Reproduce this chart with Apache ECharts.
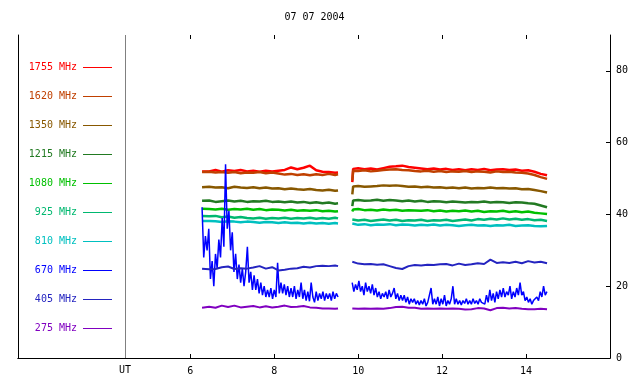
<!DOCTYPE html>
<html><head><meta charset="utf-8">
<script src="https://cdn.jsdelivr.net/npm/echarts@6/dist/echarts.min.js"></script>
<style>html,body{margin:0;padding:0;background:#fff}#c{width:640px;height:384px}</style>
</head><body><div id="c"></div>
<script>
const TITLE = '07 07 2004';
const NAMES = ['1755 MHz','1620 MHz','1350 MHz','1215 MHz','1080 MHz','925 MHz','810 MHz','670 MHz','405 MHz','275 MHz'];
const COLORS = ['#ff0000','#c04000','#885800','#227a22','#00c000','#00b870','#00c0c0','#0000ff','#2424c0','#8000c0'];
const UT_POS = 4.45;
const Y_TICKS = [0, 20, 40, 60, 80];

// sample times (hours UT) of the two observing segments
const T1 = [6.28, 6.3, 6.45, 6.6, 6.75, 6.9, 7.05, 7.2, 7.35, 7.5, 7.65, 7.8, 7.95, 8.1, 8.25, 8.4, 8.55, 8.7, 8.85, 9.0, 9.15, 9.3, 9.45, 9.52];
const T2 = [9.86, 9.88, 10.0, 10.15, 10.3, 10.45, 10.6, 10.75, 10.9, 11.05, 11.2, 11.35, 11.5, 11.65, 11.8, 11.95, 12.1, 12.25, 12.4, 12.55, 12.7, 12.85, 13.0, 13.15, 13.3, 13.45, 13.6, 13.75, 13.9, 14.05, 14.2, 14.35, 14.5];

const F1755_A = [52.0,52.3,52.0,52.4,51.9,52.3,52.1,52.4,52.0,52.2,51.9,52.2,52.0,52.2,52.4,53.1,52.6,53.0,53.6,52.3,51.9,51.8,51.6,51.7];
const F1755_B = [49.0,52.7,52.9,52.6,52.8,52.5,52.9,53.3,53.4,53.6,53.2,53.0,52.8,52.6,52.8,52.5,52.7,52.4,52.6,52.3,52.6,52.4,52.7,52.3,52.5,52.6,52.4,52.5,52.2,52.3,51.9,51.3,50.9];
const F1620_A = [51.8,51.6,51.9,51.7,51.8,51.6,51.8,51.5,51.7,51.6,51.8,51.5,51.7,51.4,51.1,51.3,51.0,51.2,50.9,51.2,51.0,51.3,51.0,51.2];
const F1620_B = [49.5,52.2,52.1,52.3,52.0,52.2,52.4,52.5,52.6,52.4,52.3,52.1,52.0,52.2,51.9,52.1,51.8,52.0,51.9,52.1,51.8,52.0,51.9,51.7,52.0,51.8,51.9,51.7,51.6,51.4,51.0,50.4,49.9];
const F1350_A = [47.6,47.4,47.7,47.5,47.6,47.3,47.7,47.5,47.4,47.6,47.3,47.5,47.2,47.3,47.0,47.2,47.0,46.9,47.1,46.8,46.7,46.9,46.6,46.7];
const F1350_B = [45.6,47.8,47.9,47.7,47.8,47.9,48.1,48.0,48.1,47.9,47.7,47.8,47.6,47.7,47.5,47.6,47.4,47.5,47.3,47.5,47.2,47.4,47.3,47.5,47.3,47.4,47.2,47.3,47.0,47.1,46.8,46.5,46.1];
const F1215_A = [43.8,43.6,43.9,43.5,43.7,43.9,43.6,43.8,43.5,43.7,43.6,43.8,43.5,43.6,43.4,43.6,43.3,43.5,43.2,43.4,43.1,43.3,43.0,43.1];
const F1215_B = [42.3,43.9,44.0,43.8,43.9,44.1,43.8,44.0,43.9,43.7,43.9,43.6,43.8,43.5,43.7,43.6,43.4,43.6,43.5,43.3,43.5,43.4,43.6,43.3,43.5,43.4,43.2,43.4,43.3,43.1,43.0,42.5,42.0];
const F1080_A = [41.6,41.3,41.5,41.4,41.6,41.3,41.5,41.4,41.6,41.3,41.5,41.2,41.4,41.3,41.1,41.3,41.0,41.2,41.0,41.2,40.9,41.0,40.8,40.9];
const F1080_B = [40.8,41.4,41.5,41.2,41.3,41.1,41.4,41.2,41.3,41.0,41.2,41.1,41.0,41.2,40.9,41.1,40.8,41.0,40.9,41.1,40.8,41.0,40.7,40.9,40.8,41.0,40.7,40.9,40.6,40.8,40.5,40.3,40.1];
const F925_A = [39.6,39.3,39.5,39.6,39.2,39.4,39.1,39.3,39.0,38.9,39.1,38.8,39.0,38.9,39.1,38.8,39.0,38.9,39.1,38.8,39.0,38.8,39.1,38.9];
const F925_B = [38.6,38.5,38.3,38.5,38.2,38.4,38.6,38.3,38.5,38.2,38.4,38.3,38.5,38.2,38.4,38.3,38.5,38.2,38.4,38.6,38.3,38.7,38.5,38.8,38.6,38.9,38.6,38.8,38.5,38.7,38.4,38.5,38.2];
const F810_A = [38.2,38.0,38.2,38.1,37.9,38.1,38.0,37.8,38.0,37.9,37.7,37.9,37.8,37.6,37.8,37.6,37.7,37.5,37.7,37.5,37.6,37.4,37.6,37.5];
const F810_B = [37.5,37.3,37.1,37.3,37.0,37.2,37.1,37.3,37.0,37.2,37.1,36.9,37.1,37.0,37.2,36.9,37.1,37.0,36.8,37.0,37.1,36.9,37.0,36.8,37.0,36.9,37.1,36.8,36.9,37.0,36.8,36.7,36.8];
const F405_A = [24.9,25.0,24.7,24.8,25.3,25.5,24.8,25.0,24.9,25.2,25.6,24.9,25.3,24.4,24.6,24.9,25.0,25.4,25.2,25.6,25.7,25.6,25.8,25.6];
const F405_B = [26.8,26.5,26.3,26.1,26.2,26.0,26.1,25.6,25.1,24.8,25.6,25.9,25.8,26.0,25.9,26.1,26.2,25.8,26.3,25.9,26.1,26.4,26.2,27.4,26.5,26.7,26.5,26.8,26.4,27.0,26.6,26.8,26.4];
const F275_A = [14.0,14.1,14.3,14.0,14.6,14.2,14.6,14.1,14.3,14.5,14.1,14.4,14.1,14.3,14.6,14.2,14.3,14.5,14.1,14.0,13.8,13.8,13.7,13.8];
const F275_B = [13.8,13.7,13.7,13.8,13.7,13.8,13.7,13.9,14.2,14.3,14.0,14.0,13.7,13.8,13.7,13.8,13.7,13.8,13.7,13.5,13.6,13.9,13.8,13.3,13.9,14.0,13.8,13.9,13.7,13.6,13.6,13.7,13.6];

// 670 MHz is sampled more finely (every 0.04 h)
const F670_A_START = 6.28, F670_B_START = 9.857, F670_STEP = 0.04;
const F670_A = [42,28,34,30,36,22,27,20,29,25,33,28,39,31,54,36,41,30,35,24,29,22,26,21,25,20,24,31,21,24,19,23,19,22,18,21,17.5,20,17,19,17,19.5,16.5,19,17,26.5,18,21,18,20.5,17.5,20,17,19.5,17,20,16.5,19,17,21,16.5,19,16,18.5,15.8,21,17,15.5,18.5,16,18,16.5,18.5,16,18,16.5,18,16,18.5,16.5,18,17];
const F670_B = [21,18.5,20.5,19,21.5,18.5,20,17.5,21,18.5,
 20,18,20.5,17.5,19.5,17,18.5,16.5,18,17,
 18.5,16.5,19,17,18,19.5,16.5,18,16,17.5,
 16,17.5,15.5,17,15,16.5,15.5,16.5,15,16,
 14.8,16,15,16.5,14.5,15.5,15,19.5,15,16.5,
 15,17,14.5,16.5,15,17.5,14.5,16,15,16.5,
 20,15,16.5,15,16,14.8,16,15.2,16.5,15,
 16,15,16.5,15.2,16,15,16.5,15.5,16,15,
 17.5,15.5,19,16,18,15.5,18.5,16.5,19,17,
 19.5,17,18.5,17.5,20,16.5,18.5,17,19.5,17.5,
 21,17.5,18.5,16,17,15.5,16.5,15,16,15.5,
 17,16,18.5,17,20,17.5,18.5];

const FONT = 'DejaVu Sans Mono';

function pairs(ts, vs) { return vs.map((v, i) => [ts[i], v]); }
function gridTimes(start, n) { const out = []; for (let i = 0; i < n; i++) out.push(+(start + i * F670_STEP).toFixed(3)); return out; }
function joined(a, b) { return a.concat([[9.7, null]], b); }

const SEG = {
  '1755 MHz': joined(pairs(T1, F1755_A), pairs(T2, F1755_B)),
  '1620 MHz': joined(pairs(T1, F1620_A), pairs(T2, F1620_B)),
  '1350 MHz': joined(pairs(T1, F1350_A), pairs(T2, F1350_B)),
  '1215 MHz': joined(pairs(T1, F1215_A), pairs(T2, F1215_B)),
  '1080 MHz': joined(pairs(T1, F1080_A), pairs(T2, F1080_B)),
  '925 MHz': joined(pairs(T1, F925_A), pairs(T2, F925_B)),
  '810 MHz': joined(pairs(T1, F810_A), pairs(T2, F810_B)),
  '670 MHz': joined(pairs(gridTimes(F670_A_START, F670_A.length), F670_A), pairs(gridTimes(F670_B_START, F670_B.length), F670_B)),
  '405 MHz': joined(pairs(T1, F405_A), pairs(T2, F405_B)),
  '275 MHz': joined(pairs(T1, F275_A), pairs(T2, F275_B))
};

const widths = {'670 MHz': 1.5, '405 MHz': 2, '275 MHz': 2};

// data series live on grid 1 (plot from 6 h to 16 h)
const series = NAMES.map((n, i) => ({
  name: n, type: 'line', xAxisIndex: 2, yAxisIndex: 2, symbol: 'none', connectNulls: false,
  data: SEG[n], animation: false, silent: true,
  lineStyle: { color: COLORS[i], width: widths[n] || 2.5 },
  itemStyle: { color: COLORS[i] }
}));
// UT divider on the frame grid
series.unshift({
  name: 'UT', type: 'line', xAxisIndex: 0, yAxisIndex: 0, data: [], silent: true, animation: false,
  markLine: {
    silent: true, symbol: ['none', 'none'], label: { show: false }, animation: false,
    lineStyle: { color: '#808080', type: 'solid', width: 1 },
    data: [{ xAxis: UT_POS }]
  }
});

// legend drawn as text + line sample for each frequency
const LEG_TOP = 67.5, LEG_STEP = 29;
const legendGraphics = [];
NAMES.forEach((n, i) => {
  const y = LEG_TOP + LEG_STEP * i;
  legendGraphics.push({ type: 'text', x: 77, y: y, silent: true,
    style: { text: n, fill: COLORS[i], font: '10px ' + FONT, textAlign: 'right', textVerticalAlign: 'middle' } });
  legendGraphics.push({ type: 'line', silent: true,
    shape: { x1: 83, y1: y, x2: 112, y2: y }, style: { stroke: COLORS[i], lineWidth: 1 } });
});

const chart = echarts.init(document.getElementById('c'), null, { renderer: 'canvas' });
const axisLine = { show: true, lineStyle: { color: '#000', width: 1 } };
const tick = { show: true, inside: true, length: 4, lineStyle: { color: '#000', width: 1 } };
chart.setOption({
  animation: false,
  backgroundColor: '#fff',
  textStyle: { fontFamily: FONT },
  graphic: [{ type: 'text', x: 314.5, y: 17, silent: true,
    style: { text: TITLE, fill: '#000', font: '10px ' + FONT, textAlign: 'center', textVerticalAlign: 'middle' } }].concat(legendGraphics),
  grid: [
    { left: 18, right: 30, top: 35, bottom: 26, containLabel: false },
    { left: 190.3, right: 30, top: 35, bottom: 26, containLabel: false }
  ],
  xAxis: [
    { gridIndex: 0, type: 'value', position: 'bottom', min: 1.9, max: 16, axisLine,
      splitLine: { show: false }, axisTick: { show: false },
      axisLabel: { customValues: [UT_POS], color: '#000', fontFamily: FONT, fontSize: 10, margin: 7,
        formatter: () => 'UT' } },
    { gridIndex: 0, type: 'value', position: 'top', min: 1.9, max: 16, axisLine,
      splitLine: { show: false }, axisTick: { show: false }, axisLabel: { show: false } },
    { gridIndex: 1, type: 'value', position: 'bottom', min: 6, max: 16, interval: 2,
      axisLine: { show: false }, splitLine: { show: false }, axisTick: tick,
      axisLabel: { color: '#000', fontFamily: FONT, fontSize: 10, margin: 8,
        formatter: v => (v >= 15.99 ? '' : String(v)) } },
    { gridIndex: 1, type: 'value', position: 'top', min: 6, max: 16, interval: 2,
      axisLine: { show: false }, splitLine: { show: false }, axisTick: tick, axisLabel: { show: false } }
  ],
  yAxis: [
    { gridIndex: 0, type: 'value', position: 'left', min: 0, max: 90, axisLine,
      splitLine: { show: false }, axisTick: { show: false }, axisLabel: { show: false } },
    { gridIndex: 0, type: 'value', position: 'right', min: 0, max: 90, axisLine,
      splitLine: { show: false },
      axisTick: Object.assign({ customValues: Y_TICKS }, tick),
      axisLabel: { customValues: Y_TICKS, color: '#000', fontFamily: FONT, fontSize: 10, margin: 6 } },
    { gridIndex: 1, type: 'value', min: 0, max: 90, show: false }
  ],
  series
});
</script></body></html>
